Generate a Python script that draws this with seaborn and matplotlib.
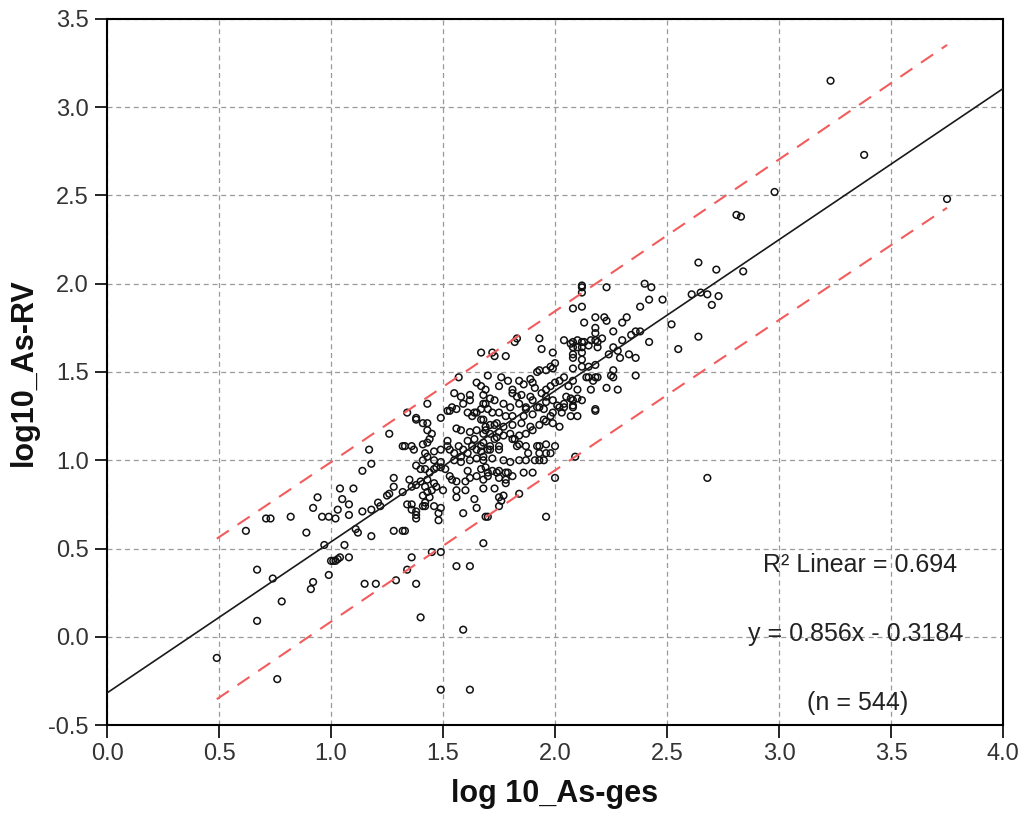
import numpy as np
import pandas as pd
import matplotlib
matplotlib.use("Agg")
import matplotlib.pyplot as plt
import seaborn as sns

# ---- data (log10 As-ges, log10 As-RV) ----
points_low = [
    (0.49, -0.12), (0.76, -0.24), (1.49, -0.30), (1.62, -0.30), (0.67, 0.09), (0.78, 0.20),
    (0.74, 0.33), (0.67, 0.38), (0.62, 0.60), (0.71, 0.67), (0.73, 0.67), (0.82, 0.68),
    (0.89, 0.59), (0.92, 0.73), (0.94, 0.79), (0.91, 0.27), (0.92, 0.31), (0.97, 0.52),
    (0.99, 0.35), (0.96, 0.68), (0.99, 0.68), (1.02, 0.67), (1.00, 0.43), (1.01, 0.43),
    (1.02, 0.43), (1.04, 0.45), (1.03, 0.44), (1.08, 0.45), (1.06, 0.52), (1.04, 0.84),
    (1.05, 0.78), (1.03, 0.72), (1.08, 0.75), (1.08, 0.69), (1.10, 0.84), (1.11, 0.61),
    (1.12, 0.59), (1.14, 0.94), (1.17, 1.06), (1.18, 0.98), (1.18, 0.72), (1.14, 0.71),
    (1.18, 0.57), (1.15, 0.30), (1.20, 0.30), (1.21, 0.76), (1.26, 0.81), (1.26, 1.15),
    (1.28, 0.90), (1.28, 0.85), (1.28, 0.60), (1.29, 0.32), (1.32, 0.60), (1.33, 0.60),
    (1.33, 1.08), (1.34, 1.27), (1.34, 0.38), (1.36, 0.45), (1.36, 1.08), (1.37, 1.06),
    (1.38, 1.24), (1.38, 0.30), (1.40, 0.11), (1.34, 0.75), (1.36, 0.72), (1.38, 0.69),
    (1.38, 0.67), (1.42, 0.74), (1.43, 1.32), (1.45, 0.48), (1.49, 0.48), (1.46, 0.74),
    (1.48, 0.70), (1.48, 0.66), (1.49, 0.73), (1.56, 0.40), (1.62, 0.40), (1.59, 0.04),
]

points_high = [
    (3.23, 3.15), (3.38, 2.73), (2.98, 2.52), (3.75, 2.48), (2.81, 2.39), (2.83, 2.38),
    (2.64, 2.12), (2.72, 2.08), (2.84, 2.07), (2.40, 2.00), (2.43, 1.98), (2.38, 1.87),
    (2.42, 1.91), (2.48, 1.91), (2.61, 1.94), (2.65, 1.95), (2.68, 1.94), (2.73, 1.93),
    (2.70, 1.88), (2.52, 1.77), (2.64, 1.70), (2.55, 1.63), (2.68, 0.90), (2.30, 1.78),
    (2.32, 1.81),
]

points_upper_mid = [
    (2.12, 1.99), (2.12, 1.98), (2.12, 1.95), (2.23, 1.98), (2.08, 1.86), (2.12, 1.87),
    (2.13, 1.78), (2.18, 1.81), (2.22, 1.81), (2.23, 1.79), (2.26, 1.73), (2.18, 1.75),
    (2.18, 1.72), (2.13, 1.67), (2.16, 1.68), (2.18, 1.68), (2.19, 1.67), (2.21, 1.69),
    (2.08, 1.67), (2.12, 1.67), (2.08, 1.64), (2.12, 1.64), (2.12, 1.61), (2.08, 1.60),
    (2.15, 1.65), (2.19, 1.64), (2.30, 1.68), (2.34, 1.71), (2.36, 1.73), (2.38, 1.73),
    (2.42, 1.67), (2.24, 1.60), (2.26, 1.64), (2.28, 1.62), (2.29, 1.58), (2.33, 1.60),
    (2.36, 1.58), (2.12, 1.57), (2.12, 1.53), (2.08, 1.52), (2.15, 1.53), (2.18, 1.54),
    (2.15, 1.47), (2.19, 1.47), (2.26, 1.51), (2.25, 1.48), (2.26, 1.47), (2.36, 1.48),
    (2.08, 1.45), (2.14, 1.47), (2.18, 1.47), (2.23, 1.41), (2.28, 1.40), (2.08, 1.34),
    (2.12, 1.34), (2.08, 1.31), (2.08, 1.30), (2.18, 1.28), (2.09, 1.02), (2.17, 1.45),
    (2.16, 1.40), (2.08, 1.58),
]

points_core_upper = [
    (1.93, 1.69), (1.82, 1.67), (1.83, 1.69), (1.94, 1.63), (1.99, 1.61), (1.72, 1.61),
    (1.73, 1.59), (1.67, 1.61), (2.04, 1.68), (2.07, 1.66), (2.10, 1.68), (2.10, 1.64),
    (1.78, 1.59), (1.93, 1.51), (1.92, 1.50), (1.96, 1.51), (1.98, 1.53), (1.99, 1.52),
    (2.00, 1.55), (1.70, 1.48), (1.76, 1.47), (1.79, 1.45), (1.84, 1.45), (1.86, 1.43),
    (1.89, 1.46), (1.90, 1.44), (1.91, 1.41), (1.75, 1.42), (1.81, 1.40), (1.81, 1.38),
    (1.83, 1.36), (1.85, 1.37), (1.89, 1.36), (1.90, 1.34), (1.94, 1.38), (1.96, 1.40),
    (1.98, 1.42), (2.00, 1.44), (2.02, 1.45), (1.69, 1.40), (1.71, 1.35), (1.73, 1.34),
    (1.68, 1.32), (2.04, 1.47), (2.06, 1.42), (2.05, 1.36), (2.07, 1.35), (2.04, 1.30),
    (2.10, 1.35), (2.10, 1.40), (1.77, 1.32), (1.80, 1.30), (1.84, 1.32), (1.87, 1.30),
    (1.93, 1.30), (1.96, 1.33), (1.99, 1.34), (2.01, 1.31), (1.70, 1.29), (1.72, 1.27),
    (1.75, 1.27), (1.78, 1.25), (1.81, 1.25), (1.86, 1.25), (1.90, 1.26), (1.95, 1.29),
    (1.99, 1.27), (2.03, 1.27), (2.07, 1.25), (2.10, 1.25), (1.68, 1.23), (1.71, 1.20),
    (1.74, 1.21), (1.77, 1.19), (1.81, 1.20), (1.85, 1.21), (1.89, 1.19), (1.93, 1.20),
    (1.96, 1.22), (1.99, 1.21), (2.02, 1.19), (1.57, 1.47), (1.95, 1.23), (1.98, 1.25),
    (2.02, 1.30), (2.04, 1.32), (1.96, 1.36), (1.87, 1.29), (1.92, 1.30), (2.18, 1.29),
]

points_core_lower = [
    (1.68, 1.15), (1.71, 1.15), (1.74, 1.13), (1.77, 1.14), (1.80, 1.15), (1.82, 1.12),
    (1.84, 1.09), (1.87, 1.08), (1.88, 1.04), (1.93, 1.08), (1.96, 1.09), (2.00, 1.08),
    (1.93, 1.04), (1.96, 1.04), (1.98, 1.04), (1.95, 1.00), (1.91, 1.00), (1.84, 1.00),
    (1.80, 0.99), (1.77, 1.00), (1.72, 1.01), (1.68, 1.02), (1.71, 1.06), (1.75, 1.06),
    (1.69, 0.96), (1.72, 0.94), (1.74, 0.93), (1.75, 0.94), (1.78, 0.93), (1.79, 0.93),
    (1.70, 0.91), (1.75, 0.90), (1.78, 0.89), (1.78, 0.87), (1.86, 0.93), (1.90, 0.93),
    (2.00, 0.90), (1.68, 0.84), (1.73, 0.84), (1.77, 0.80), (1.75, 0.79), (1.76, 0.77),
    (1.75, 0.74), (1.84, 0.81), (1.70, 0.68), (1.96, 0.68), (1.68, 0.53), (1.69, 0.68),
    (1.81, 0.91), (1.87, 1.00), (1.93, 1.00), (1.92, 1.08), (1.83, 1.08), (1.81, 1.12),
    (1.84, 1.14), (1.87, 1.15), (1.90, 1.17), (1.73, 1.20), (1.75, 1.16), (1.73, 1.12),
    (1.75, 1.08), (1.71, 1.08), (1.69, 1.19),
]

points_core_left = [
    (1.49, 1.24), (1.55, 1.38), (1.58, 1.36), (1.59, 1.32), (1.53, 1.28), (1.54, 1.30),
    (1.62, 1.37), (1.62, 1.34), (1.65, 1.44), (1.67, 1.42), (1.68, 1.37), (1.69, 1.32),
    (1.61, 1.27), (1.63, 1.25), (1.65, 1.27), (1.67, 1.29), (1.41, 1.21), (1.43, 1.21),
    (1.43, 1.17), (1.45, 1.15), (1.44, 1.12), (1.56, 1.18), (1.58, 1.17), (1.62, 1.16),
    (1.65, 1.17), (1.69, 1.17), (1.32, 1.08), (1.41, 1.09), (1.52, 1.11), (1.52, 1.08),
    (1.53, 1.06), (1.57, 1.08), (1.61, 1.11), (1.63, 1.08), (1.65, 1.06), (1.68, 1.10),
    (1.70, 1.06), (1.42, 1.04), (1.43, 1.02), (1.46, 1.05), (1.46, 1.00), (1.49, 0.99),
    (1.47, 0.96), (1.49, 0.96), (1.41, 1.00), (1.55, 1.00), (1.58, 0.99), (1.62, 1.00),
    (1.65, 1.01), (1.68, 1.00), (1.58, 1.02), (1.55, 1.04), (1.61, 1.04), (1.67, 1.05),
    (1.38, 0.97), (1.40, 0.95), (1.42, 0.95), (1.44, 0.93), (1.46, 0.95), (1.35, 0.89),
    (1.32, 0.82), (1.36, 0.85), (1.38, 0.86), (1.40, 0.88), (1.43, 0.89), (1.46, 0.87),
    (1.53, 0.91), (1.54, 0.89), (1.56, 0.88), (1.60, 0.88), (1.62, 0.90), (1.65, 0.91),
    (1.68, 0.89), (1.70, 0.93), (1.42, 0.85), (1.43, 0.82), (1.41, 0.80), (1.45, 0.83),
    (1.47, 0.85), (1.50, 0.83), (1.56, 0.83), (1.60, 0.83), (1.44, 0.79), (1.42, 0.76),
    (1.41, 0.74), (1.36, 0.75), (1.38, 0.71), (1.56, 0.79), (1.64, 0.78), (1.65, 0.73),
    (1.59, 0.70), (1.25, 0.80), (1.22, 0.74), (1.43, 1.10), (1.38, 1.23), (1.52, 1.28),
    (1.56, 1.29), (1.64, 1.27), (1.67, 1.23), (1.64, 1.12), (1.59, 1.06), (1.49, 1.06),
    (1.51, 0.95), (1.61, 0.94), (1.67, 0.95), (1.67, 1.08),
]

# regression summary shown on the chart
slope = 0.856
intercept = -0.3184
r_squared = 0.694
n_cases = 544
resid_sd = 0.229          # residual spread behind the 95% prediction band

x_ticks = [0.0, 0.5, 1.0, 1.5, 2.0, 2.5, 3.0, 3.5, 4.0]
y_ticks = [-0.5, 0.0, 0.5, 1.0, 1.5, 2.0, 2.5, 3.0, 3.5]
x_title = "log 10_As-ges"
y_title = "log10_As-RV"

all_points = (points_low + points_high + points_upper_mid + points_core_upper
              + points_core_lower + points_core_left)
df = pd.DataFrame(all_points, columns=[x_title, y_title])

sns.set_theme(style="white")
plt.rcParams['font.family'] = ['Liberation Sans', 'DejaVu Sans']

fig = plt.figure(figsize=(10.23, 8.25), dpi=100)
ax = fig.add_axes([0.1046, 0.1212, 0.8759, 0.8558])

sns.scatterplot(data=df, x=x_title, y=y_title, ax=ax, marker='o', s=23,
                facecolors='none', edgecolors='black', linewidths=1.1,
                legend=False, zorder=3)
coll = ax.collections[-1]
coll.set_facecolor('none')
coll.set_edgecolor('#111111')

# fit line across the full x range
xs = np.linspace(x_ticks[0], x_ticks[-1], 200)
ax.plot(xs, intercept + slope * xs, color='#1a1a1a', lw=1.2, zorder=4)

# 95% prediction interval over the data range
xv = df[x_title].to_numpy()
xbar = xv.mean()
sxx = ((xv - xbar) ** 2).sum()
xp = np.linspace(xv.min(), xv.max(), 200)
half = 1.965 * resid_sd * np.sqrt(1 + 1 / n_cases + (xp - xbar) ** 2 / sxx)
fit_p = intercept + slope * xp
for sign in (1, -1):
    ax.plot(xp, fit_p + sign * half, color='#f25c5c', lw=1.5,
            dashes=(7, 5), zorder=4)

ax.set_xlim(x_ticks[0], x_ticks[-1])
ax.set_ylim(y_ticks[0], y_ticks[-1])
ax.set_xticks(x_ticks)
ax.set_yticks(y_ticks)
ax.set_xticklabels([f"{v:.1f}" for v in x_ticks])
ax.set_yticklabels([f"{v:.1f}" for v in y_ticks])

ax.grid(True, color='#9a9a9a', linestyle=(0, (4, 3)), linewidth=0.9)
ax.set_axisbelow(True)
for s in ax.spines.values():
    s.set_visible(True)
    s.set_color('black')
    s.set_linewidth(1.5)
ax.tick_params(axis='both', which='major', direction='out', length=9, width=1.2,
               color='black', labelsize=17, labelcolor='#333333', pad=4,
               left=True, bottom=True)

title_font = ['Liberation Sans', 'DejaVu Sans']
ax.set_xlabel(x_title, fontsize=22, fontweight='bold', family=title_font,
              color='#111111', labelpad=10)
ax.set_ylabel(y_title, fontsize=22, fontweight='bold', family=title_font,
              color='#111111', labelpad=7)

ax.text(0.840, 0.2266, f"R\u00b2 Linear = {r_squared:.3f}", transform=ax.transAxes,
        ha='center', va='center', fontsize=18, color='#222222')
ax.text(0.835, 0.129, f"y = {slope:.3f}x - {abs(intercept):.4f}", transform=ax.transAxes,
        ha='center', va='center', fontsize=18, color='#222222')
ax.text(0.838, 0.031, f"(n = {n_cases})", transform=ax.transAxes,
        ha='center', va='center', fontsize=18, color='#222222')

fig.savefig("out.png", dpi=100)
